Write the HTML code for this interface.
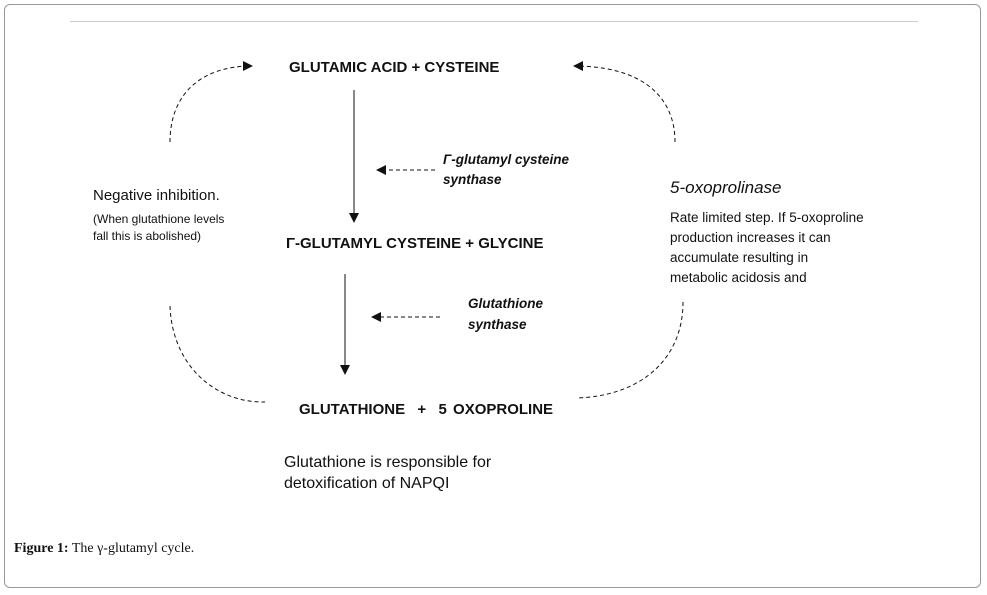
<!DOCTYPE html>
<html><head><style>
body{margin:0;width:987px;height:595px;background:#fff;position:relative;font-family:"Liberation Sans",sans-serif;overflow:hidden}
.t{position:absolute;white-space:nowrap;color:#111}
.b{font-weight:bold}
</style></head><body>
<div style="position:absolute;left:4px;top:4px;width:975px;height:582px;border:1px solid #999;border-radius:6px"></div>
<div style="position:absolute;left:70px;top:21px;width:848px;height:1px;background:#ccc"></div>
<svg width="987" height="595" style="position:absolute;left:0;top:0">
<defs><marker id="a" markerWidth="10" markerHeight="10" refX="9" refY="5" orient="auto" markerUnits="userSpaceOnUse"><path d="M0,0 L10,5 L0,10z" fill="#111"/></marker></defs>
<g stroke="#111" fill="none" stroke-width="1">
<line x1="354" y1="90" x2="354" y2="222" marker-end="url(#a)"/>
<line x1="345" y1="274" x2="345" y2="374" marker-end="url(#a)"/>
</g>
<g stroke="#111" fill="none" stroke-width="1" stroke-dasharray="4,3">
<line x1="435" y1="170" x2="377" y2="170" marker-end="url(#a)"/>
<line x1="440" y1="317" x2="372" y2="317" marker-end="url(#a)"/>
<path d="M170,142 C170,95 200,66 252,66" marker-end="url(#a)"/>
<path d="M675,142 C675,95 640,66 574,66" marker-end="url(#a)"/>
<path d="M170,306 C172,365 215,403 265,402"/>
<path d="M683,302 C683,360 640,396 577,398"/>
</g>
</svg>
<div class="t b" style="left:289px;top:59px;font-size:15px">GLUTAMIC ACID + CYSTEINE</div>
<div class="t b" style="left:443px;top:150px;font-size:13.5px;font-style:italic;line-height:20px">Γ-glutamyl cysteine<br>synthase</div>
<div class="t b" style="left:286px;top:235px;font-size:15px">Γ-GLUTAMYL CYSTEINE + GLYCINE</div>
<div class="t b" style="left:468px;top:293px;font-size:13.5px;font-style:italic;line-height:21px">Glutathione<br>synthase</div>
<div class="t b" style="left:299px;top:401px;font-size:15px;word-spacing:2px">GLUTATHIONE &nbsp;+ &nbsp;5 OXOPROLINE</div>
<div class="t" style="left:284px;top:452px;font-size:16px;line-height:21px">Glutathione is responsible for<br>detoxification of NAPQI</div>
<div class="t" style="left:93px;top:187px;font-size:15px">Negative inhibition.</div>
<div class="t" style="left:93px;top:211px;font-size:12px;line-height:17px">(When glutathione levels<br>fall this is abolished)</div>
<div class="t" style="left:670px;top:178px;font-size:17px;font-style:italic">5-oxoprolinase</div>
<div class="t" style="left:670px;top:208px;font-size:13.5px;line-height:20px">Rate limited step. If 5-oxoproline<br>production increases it can<br>accumulate resulting in<br>metabolic acidosis and</div>
<div class="t" style="left:14px;top:541px;font-size:14px;font-family:'Liberation Serif',serif"><b>Figure 1:</b> The γ-glutamyl cycle.</div>
</body></html>
